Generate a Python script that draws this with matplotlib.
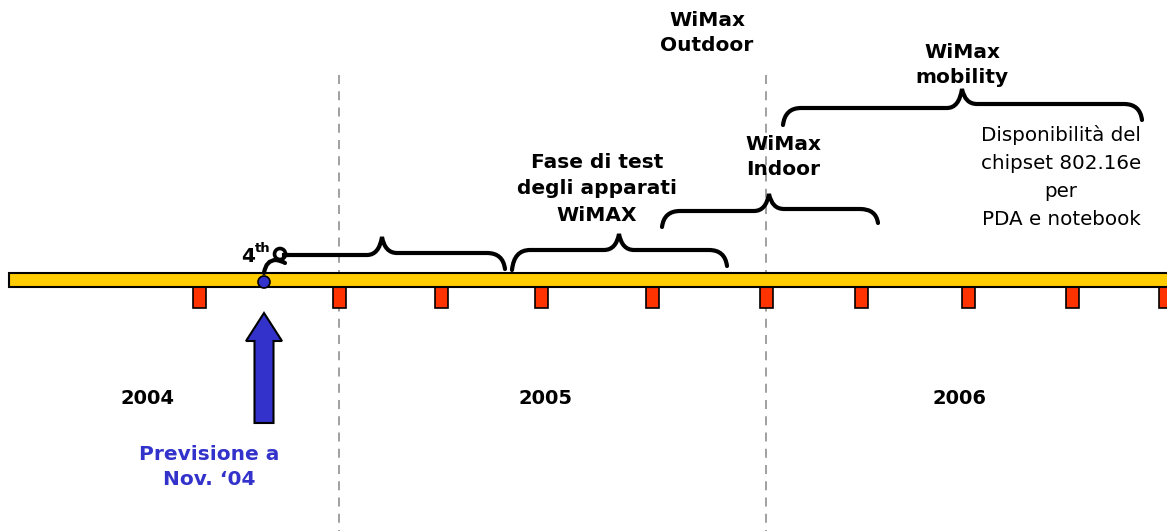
#!/usr/bin/env python3
# WiMax roadmap timeline (2004-2006)

import matplotlib
matplotlib.use('Agg')
import matplotlib.pyplot as plt
from matplotlib.path import Path
from matplotlib.patches import Rectangle, Circle, PathPatch, Polygon

W, H = 1167, 531

# month markers along the timeline (pixel x)
month_marks = [199, 339, 441, 541, 652, 766, 861, 968, 1072, 1165]
year_dividers = [339, 766]
years = ['2004', '2005', '2006']
year_x = [147, 545, 960]

forecast_x = 264
forecast_label = 'Previsione a\nNov. \u201804'

# braces: (x_start, x_cusp, x_end, y_start, y_line_left, y_tip, y_line_right, y_end)
braces = [
    (286, 382, 505, 255, 255, 237, 253, 269),
    (512, 619, 727, 270, 250, 234, 250, 266),
    (662, 769, 878, 227, 211, 194, 209, 223),
    (783, 962, 1142, 125, 108, 89, 104, 120),
]

labels_bold = [
    ('Fase di test\ndegli apparati\nWiMAX', 597, 189, 1.5),
    ('WiMax\nIndoor', 783, 157, 1.45),
    ('WiMax\nOutdoor', 707, 33, 1.4),
    ('WiMax\nmobility', 962, 65, 1.4),
]
chip_label = 'Disponibilità del\nchipset 802.16e\nper\nPDA e notebook'

YELLOW = '#FFCC00'
RED = '#FF3300'
BLUE = '#3333CC'

fig = plt.figure(figsize=(W / 100, H / 100), dpi=100)
ax = fig.add_axes([0, 0, 1, 1])
ax.set_xlim(0, W)
ax.set_ylim(H, 0)
ax.axis('off')

def brace(x0, xc, x1, y0, yl, yt, yr, y1, r=18, rc=15):
    verts = [(x0, y0), (x0 + 2, yl), (x0 + r, yl),
             (xc - rc, yl), (xc - 3, yl), (xc, yt),
             (xc + 3, yr), (xc + rc, yr),
             (x1 - r, yr), (x1 - 2, yr), (x1, y1)]
    codes = [Path.MOVETO, Path.CURVE3, Path.CURVE3,
             Path.LINETO, Path.CURVE3, Path.CURVE3,
             Path.CURVE3, Path.CURVE3,
             Path.LINETO, Path.CURVE3, Path.CURVE3]
    ax.add_patch(PathPatch(Path(verts, codes), fill=False, lw=3,
                           ec='black', capstyle='round', zorder=5))

# dashed year dividers
for x in year_dividers:
    ax.plot([x, x], [75, H], ls=(0, (5, 4)), color='#999999', lw=1.3, zorder=1)

# month markers
for x in month_marks:
    ax.add_patch(Rectangle((x - 6.5, 286), 13, 22, fc=RED, ec='black', lw=1.2, zorder=2))

# main bar
ax.add_patch(Rectangle((9, 273), W + 20, 14, fc=YELLOW, ec='black', lw=1.5, zorder=3))

# forecast marker + arrow
ax.add_patch(Circle((forecast_x, 282), 6, fc=BLUE, ec='black', lw=1.2, zorder=6))
arrow = [(forecast_x - 9.5, 423), (forecast_x - 9.5, 341), (forecast_x - 18, 341),
         (forecast_x, 313), (forecast_x + 18, 341), (forecast_x + 9.5, 341),
         (forecast_x + 9.5, 423)]
ax.add_patch(Polygon(arrow, closed=True, fc=BLUE, ec='black', lw=1.5, zorder=4))

# hook from the forecast point into the first brace (curl + small loop)
curl = Path([(forecast_x, 273), (forecast_x + 2, 260), (forecast_x + 12, 260),
             (forecast_x + 18, 261), (forecast_x + 21, 263)],
            [Path.MOVETO, Path.CURVE3, Path.CURVE3, Path.CURVE3, Path.CURVE3])
ax.add_patch(PathPatch(curl, fill=False, lw=3, ec='black', capstyle='round', zorder=5))
ax.add_patch(Circle((forecast_x + 16, 254), 5.5, fill=False, ec='black', lw=2.6, zorder=5))
ax.plot([forecast_x + 20, 287], [255, 255], color='black', lw=3, zorder=5)

for b in braces:
    brace(*b)

ax.text(248, 256, '4', fontsize=14.5, fontweight='bold', ha='center', va='center')
ax.text(263, 248, 'th', fontsize=9.5, fontweight='bold', ha='center', va='center')

for lbl, x in zip(years, year_x):
    ax.text(x, 398, lbl, fontsize=14, fontweight='bold', ha='center', va='center')

ax.text(209, 467, forecast_label, fontsize=14.5, fontweight='bold', color=BLUE,
        ha='center', va='center', linespacing=1.35)

for txt, x, y, ls in labels_bold:
    ax.text(x, y, txt, fontsize=14.5, fontweight='bold', ha='center', va='center',
            linespacing=ls)

ax.text(1061, 177, chip_label, fontsize=14.3, ha='center', va='center', linespacing=1.6)

fig.savefig('out.png', dpi=100)
